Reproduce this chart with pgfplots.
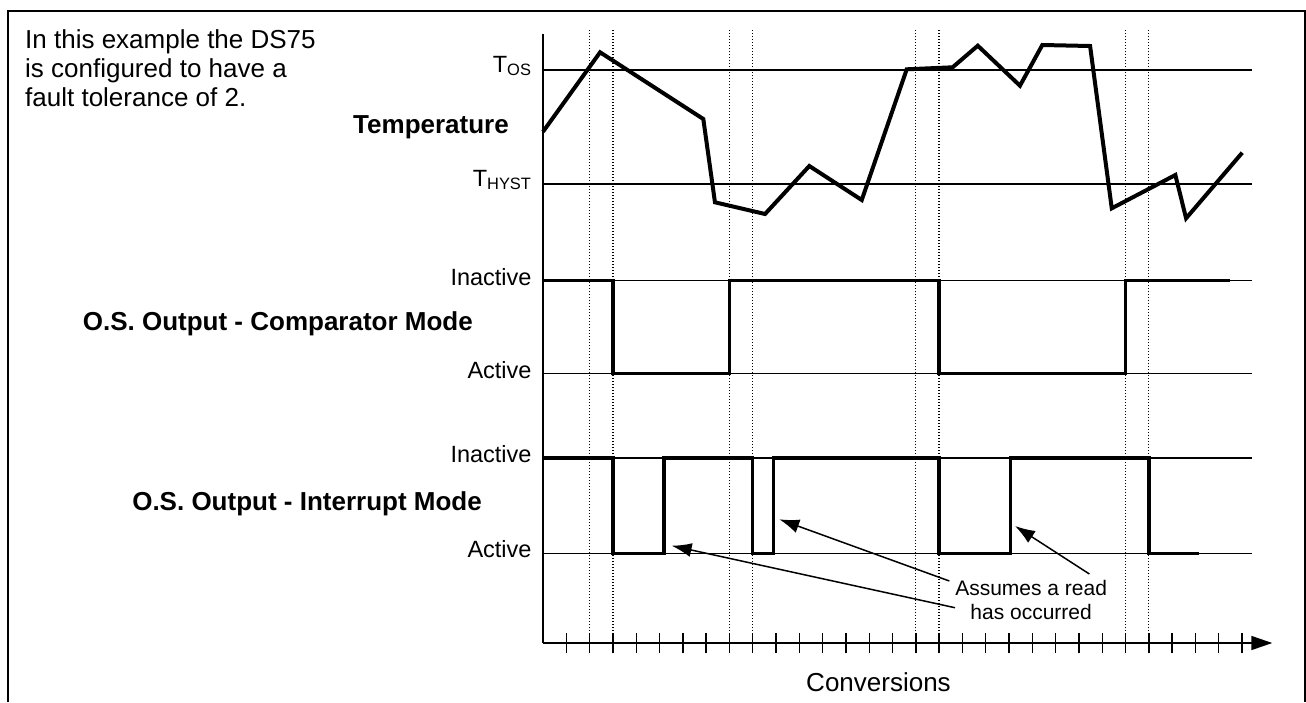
\documentclass[border=0pt]{standalone}
\usepackage{fontspec}
\setmainfont{Liberation Sans}
\usepackage{pgfplots}
\usepackage{pgfplotstable}
\pgfplotsset{compat=1.18}
\usetikzlibrary{arrows.meta}

\pgfplotstableread{
x y
0 511.3
2.45 590.7
6.88 524
7.38 440.7
9.53 429
11.43 477
13.68 443
15.61 573.7
17.58 575.7
18.66 597.3
20.47 557.3
21.43 598
23.48 597
24.41 434.7
27.14 468
27.6 424.7
30.01 490.3
}\temptable

\pgfplotstableread{
x y
0 362.3
3 362.3
3 269.3
8 269.3
8 362.3
17 362.3
17 269.3
25 269.3
25 362.3
29.48 362.3
}\comptable

\pgfplotstableread{
x y
0 185
3 185
3 89.7
5.2 89.7
5.2 185
9 185
9 89.7
9.9 89.7
9.9 185
17 185
17 89.7
20.07 89.7
20.07 185
26 185
26 89.7
28.15 89.7
}\inttable

\begin{document}
\begin{tikzpicture}
\useasboundingbox (0pt,0pt) rectangle (1306pt,-702pt);
\draw[line width=1.6pt] (8pt,-702pt) -- (8pt,-11pt) -- (1305pt,-11pt) -- (1305pt,-702pt);
\begin{axis}[
  at={(543pt,-643pt)}, anchor=south west,
  x=23.3pt, y=1pt,
  xmin=0, xmax=31.3, ymin=0, ymax=609,
  clip=false,
  axis lines=left,
  x axis line style={line width=1.5pt, -{Triangle[length=21pt,width=14pt]}},
  y axis line style={line width=1.5pt, -},
  xtick={1,...,30}, xticklabels={},
  major tick length=20.6pt, tick align=center,
  xtick style={line width=1.4pt, black},
  ytick={89.7,185,269.3,362.3,459,573},
  yticklabels={Active,Inactive,Active,Inactive,T\textsubscript{HYST},T\textsubscript{OS}},
  ytick style={draw=none},
  yticklabel style={anchor=east, inner sep=0pt, xshift=-1pt, yshift=4pt, font=\fontsize{23.5}{28}\selectfont},
  xlabel={Conversions},
  xlabel style={at={(axis description cs:0.460,-0.064)}, anchor=center, font=\fontsize{26}{30}\selectfont},
]
% dotted conversion markers
\foreach \k in {2,3,8,9,16,17,25,26}{
  \edef\tmp{\noexpand\addplot[line width=1.3pt, dash pattern=on 1.3pt off 1.7pt] coordinates {(\k,0) (\k,614)};}
  \tmp
}
% reference levels
\addplot[line width=1.5pt] coordinates {(0,573) (30.43,573)};
\addplot[line width=1.5pt] coordinates {(0,459) (30.43,459)};
\addplot[line width=1.5pt] coordinates {(0,362.3) (30.43,362.3)};
\addplot[line width=1.5pt] coordinates {(0,269.3) (30.43,269.3)};
\addplot[line width=1.5pt] coordinates {(0,185) (30.43,185)};
\addplot[line width=1.5pt] coordinates {(0,89.7) (30.43,89.7)};
% temperature
\addplot[line width=4pt, line join=miter] table {\temptable};
% comparator
\addplot[line width=3.5pt, line join=miter] table {\comptable};
% interrupt
\addplot[line width=3.5pt, line join=miter] table {\inttable};
% annotation arrows
\draw[line width=1.5pt, -{Latex[length=20pt,width=14pt]}] (axis cs:17.68,35.3) -- (axis cs:5.52,97.3);
\draw[line width=1.5pt, -{Latex[length=20pt,width=14pt]}] (axis cs:17.44,62) -- (axis cs:10.14,123.7);
\draw[line width=1.5pt, -{Latex[length=20pt,width=14pt]}] (axis cs:23.45,69) -- (axis cs:20.26,117);
\node[align=center, inner sep=0pt, font=\fontsize{21}{23.7}\selectfont] at (axis cs:20.95,43) {Assumes a read\\has occurred};
\end{axis}
\node[anchor=north west, align=left, inner sep=0pt, font=\fontsize{26}{29}\selectfont] at (25pt,-29pt) {In this example the DS75\\is configured to have a\\fault tolerance of 2.};
\node[anchor=east, inner sep=0pt, font=\bfseries\fontsize{26}{30}\selectfont] at (509pt,-127pt) {Temperature};
\node[anchor=east, inner sep=0pt, font=\bfseries\fontsize{26}{30}\selectfont] at (473pt,-324pt) {O.S. Output - Comparator Mode};
\node[anchor=east, inner sep=0pt, font=\bfseries\fontsize{26}{30}\selectfont] at (482pt,-504pt) {O.S. Output - Interrupt Mode};
\end{tikzpicture}
\end{document}
